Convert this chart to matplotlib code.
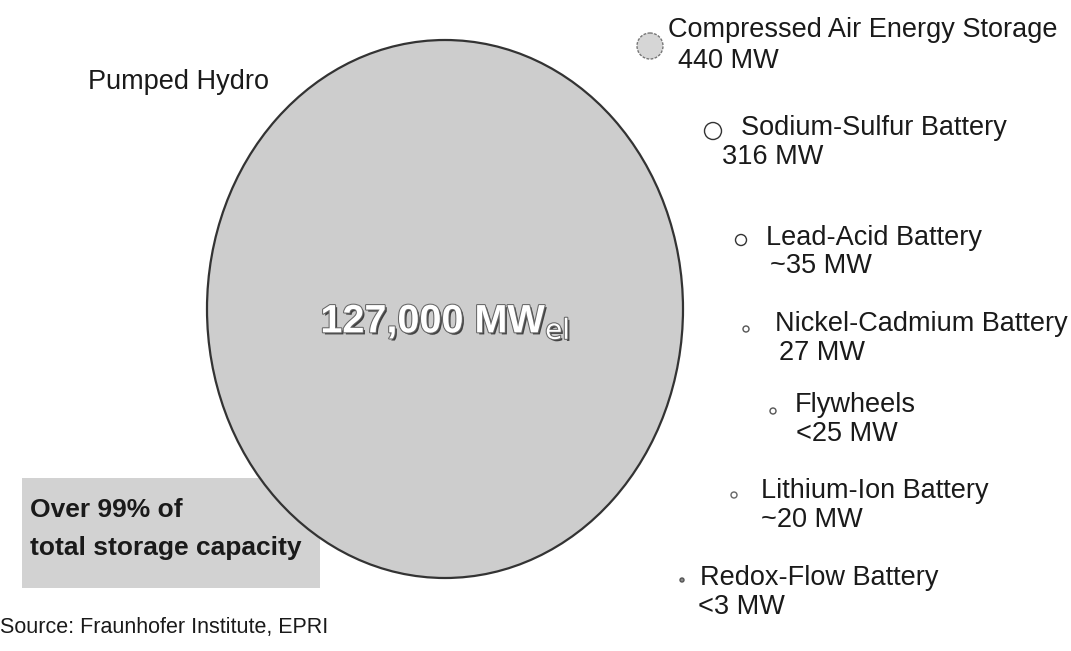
import matplotlib
matplotlib.use("Agg")
import matplotlib.pyplot as plt
from matplotlib.patches import Ellipse, Rectangle
import matplotlib.patheffects as pe

# ---- data ----
technologies = ["Pumped Hydro", "Compressed Air Energy Storage", "Sodium-Sulfur Battery",
                "Lead-Acid Battery", "Nickel-Cadmium Battery", "Flywheels",
                "Lithium-Ion Battery", "Redox-Flow Battery"]
capacity_mw = [127000, 440, 316, 35, 27, 25, 20, 3]
capacity_labels = ["127,000", "440 MW", "316 MW", "~35 MW", "27 MW", "<25 MW", "~20 MW", "<3 MW"]
share_note = ["Over 99% of", "total storage capacity"]
source_note = "Source: Fraunhofer Institute, EPRI"

# ---- layout (pixel coordinates of the 1071x651 canvas) ----
W, H = 1071, 651
big_center = (445, 309)
big_size = (476, 538)
dot_centers = [(650, 46), (713, 131), (741, 240), (746, 329), (773, 411), (734, 495), (682, 580)]
dot_diam = [26, 17, 11, 6, 6, 6, 4]
label_pos = [(668, 30), (741, 128), (766, 238), (775, 324), (795, 405), (761, 491), (700, 578)]
value_pos = [(678, 61), (722, 157), (770, 266), (779, 353), (796, 434), (761, 520), (698, 607)]

plt.rcParams['font.family'] = ['Liberation Sans', 'DejaVu Sans']
fig = plt.figure(figsize=(W / 100, H / 100), dpi=100)
ax = fig.add_axes([0, 0, 1, 1])
ax.set_xlim(0, W)
ax.set_ylim(H, 0)
ax.axis('off')

# big pumped-hydro ellipse
ax.add_patch(Ellipse(big_center, big_size[0], big_size[1], facecolor='#cdcdcd',
                     edgecolor='#333333', linewidth=1.6, zorder=2))

# note box
ax.add_patch(Rectangle((22, 478), 298, 110, facecolor='#d2d2d2', edgecolor='none', zorder=1))
ax.text(30, 510, share_note[0], fontsize=19, fontweight='bold', color='#1a1a1a',
        va='center', ha='left', zorder=3)
ax.text(30, 548, share_note[1], fontsize=19, fontweight='bold', color='#1a1a1a',
        va='center', ha='left', zorder=3)

# pumped hydro label and value
ax.text(178, 82, technologies[0], fontsize=19.5, color='#1a1a1a', ha='center', va='center')
ax.text(445, 322, capacity_labels[0] + " MW$_{\\mathrm{el}}$", fontsize=28.5, fontweight='bold',
        color='white', ha='center', va='center', zorder=4,
        path_effects=[pe.withSimplePatchShadow(offset=(1.5, -1.5), shadow_rgbFace='#333333', alpha=0.9),
                      pe.withStroke(linewidth=1.5, foreground='#666666')])

# small technologies
face = ['#d6d6d6', 'white', 'white', 'white', 'white', 'white', '#888888']
edge = ['#777777', '#333333', '#333333', '#555555', '#555555', '#666666', '#555555']
for i in range(1, len(technologies)):
    c = dot_centers[i - 1]
    d = dot_diam[i - 1]
    ax.add_patch(Ellipse(c, d, d, facecolor=face[i - 1], edgecolor=edge[i - 1],
                         linewidth=1.0, linestyle=(0, (2, 1)) if i == 1 else '-', zorder=3))
    lx, ly = label_pos[i - 1]
    ax.text(lx, ly, technologies[i], fontsize=19.5, color='#1a1a1a', ha='left', va='center')
    vx, vy = value_pos[i - 1]
    ax.text(vx, vy, capacity_labels[i], fontsize=19.5, color='#1a1a1a', ha='left', va='center')

ax.text(0, 628, source_note, fontsize=15.5, color='#1a1a1a', ha='left', va='center')

fig.savefig('out.png', dpi=100)
